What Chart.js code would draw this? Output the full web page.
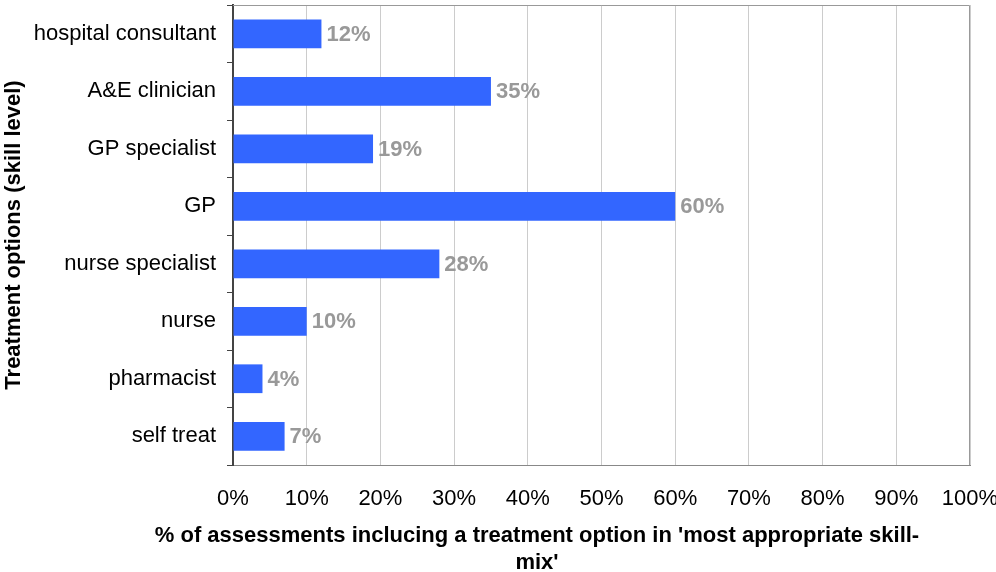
<!DOCTYPE html>
<html>
<head>
<meta charset="utf-8">
<script src="https://cdn.jsdelivr.net/npm/chart.js@4.4.1/dist/chart.umd.min.js"></script>
<style>
  html, body { margin: 0; padding: 0; background: #ffffff; }
  #wrap { width: 996px; height: 572px; position: relative; }
</style>
</head>
<body>
<div id="wrap"><canvas id="chart" width="996" height="572"></canvas></div>
<script>
// Treatment options, top to bottom
const categories = [
  'hospital consultant',
  'A&E clinician',
  'GP specialist',
  'GP',
  'nurse specialist',
  'nurse',
  'pharmacist',
  'self treat'
];

// Share of assessments (%) naming each option as the most appropriate skill-mix
const shares = [12, 35, 19, 60, 28, 10, 4, 7];

// Axis tick values (%)
const xTicks = [0, 10, 20, 30, 40, 50, 60, 70, 80, 90, 100];

const yTitle = 'Treatment options (skill level)';
const xTitleLines = [
  "% of assessments inclucing a treatment option in 'most appropriate skill-",
  "mix'"
];

const FONT = "'Liberation Sans', Arial, Helvetica, sans-serif";

// Value labels to the right of each bar
const valueLabels = {
  id: 'valueLabels',
  afterDatasetsDraw(chart) {
    const ctx = chart.ctx;
    const meta = chart.getDatasetMeta(0);
    ctx.save();
    ctx.font = 'bold 22px ' + FONT;
    ctx.fillStyle = '#999999';
    ctx.textAlign = 'left';
    ctx.textBaseline = 'middle';
    meta.data.forEach((bar, i) => {
      ctx.fillText(shares[i] + '%', bar.x + 5, bar.y + 1);
    });
    ctx.restore();
  }
};

// Top and right frame of the plot area, plus the two-line x axis title
const frameAndTitle = {
  id: 'frameAndTitle',
  afterDraw(chart) {
    const { ctx, chartArea } = chart;
    ctx.save();
    ctx.strokeStyle = '#999999';
    ctx.lineWidth = 1;
    ctx.beginPath();
    ctx.moveTo(chartArea.left, chartArea.top + 0.5);
    ctx.lineTo(chartArea.right - 0.5, chartArea.top + 0.5);
    ctx.lineTo(chartArea.right - 0.5, chartArea.bottom);
    ctx.stroke();

    ctx.font = 'bold 22px ' + FONT;
    ctx.fillStyle = '#000000';
    ctx.textAlign = 'center';
    ctx.textBaseline = 'middle';
    const cx = chartArea.left + 304;
    xTitleLines.forEach((line, i) => {
      ctx.fillText(line, cx, chartArea.bottom + 71 + i * 27);
    });
    ctx.restore();
  }
};

new Chart(document.getElementById('chart'), {
  type: 'bar',
  data: {
    labels: categories,
    datasets: [{
      data: shares,
      backgroundColor: '#3366FF',
      borderWidth: 0,
      barPercentage: 0.5,
      categoryPercentage: 1.0
    }]
  },
  options: {
    indexAxis: 'y',
    responsive: false,
    animation: false,
    layout: { padding: { top: 5, right: 26, left: 0, bottom: 0 } },
    plugins: {
      legend: { display: false },
      tooltip: { enabled: false }
    },
    scales: {
      x: {
        min: 0,
        max: 100,
        afterBuildTicks(scale) {
          scale.ticks = xTicks.map(v => ({ value: v }));
        },
        afterFit(scale) {
          scale.height = 107;
          scale.paddingLeft = 0;
          scale.paddingRight = 0;
        },
        ticks: {
          callback: v => v + '%',
          color: '#000000',
          font: { family: FONT, size: 22 },
          padding: 21,
          maxRotation: 0,
          autoSkip: false
        },
        grid: {
          color: '#cccccc',
          lineWidth: 1,
          drawTicks: false
        },
        border: { display: true, color: '#888888', width: 1 }
      },
      y: {
        afterFit(scale) {
          scale.width = 233;
          scale.paddingTop = 0;
          scale.paddingBottom = 0;
        },
        ticks: {
          color: '#000000',
          font: { family: FONT, size: 22 },
          padding: 11,
          autoSkip: false
        },
        grid: {
          offset: true,
          drawOnChartArea: false,
          drawTicks: true,
          tickLength: 6,
          color: '#444444',
          lineWidth: 1
        },
        border: { display: true, color: '#444444', width: 2 },
        title: {
          display: true,
          text: yTitle,
          color: '#000000',
          font: { family: FONT, size: 22, weight: 'bold' },
          padding: { top: 1, bottom: 0 }
        }
      }
    }
  },
  plugins: [valueLabels, frameAndTitle]
});
</script>
</body>
</html>
